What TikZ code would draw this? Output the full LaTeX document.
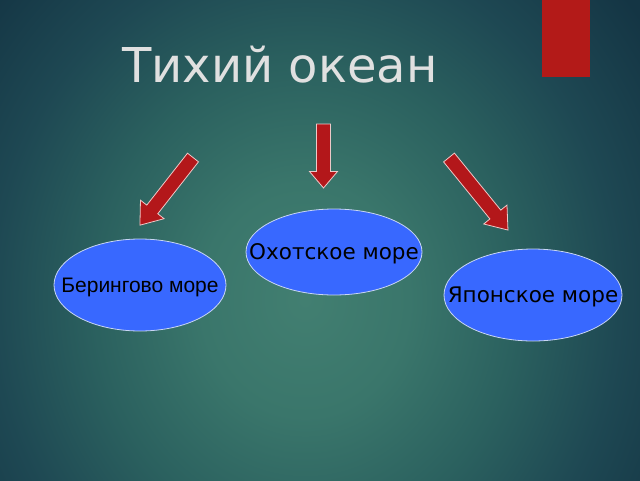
\documentclass[tikz,border=0pt]{standalone}
\usepackage{fontspec}
\setmainfont{DejaVu Sans}
\newfontfamily\arialfont{Liberation Sans}
\definecolor{bgin}{HTML}{427F71}
\definecolor{bgA}{HTML}{3A766B}
\definecolor{bgB}{HTML}{2B615F}
\definecolor{bgC}{HTML}{1E4853}
\definecolor{bgD}{HTML}{143544}
\definecolor{bgE}{HTML}{0F2A38}
\definecolor{arrred}{HTML}{B3171A}
\definecolor{arredge}{HTML}{EEC8C8}
\definecolor{seablue}{HTML}{3868FF}
\definecolor{seaedge}{HTML}{C8D6F4}
\definecolor{titlegray}{HTML}{E0E0E0}
\definecolor{rectred}{HTML}{B31A18}
\pgfdeclareradialshading{bgshade}{\pgfpoint{0bp}{0bp}}{color(0bp)=(bgin); color(5.1bp)=(bgA); color(10.3bp)=(bgB); color(15.4bp)=(bgC); color(20.6bp)=(bgD); color(34.3bp)=(bgE); color(50bp)=(bgE)}
\usetikzlibrary{shapes.geometric}
\tikzset{
  blockarrow/.style={fill=arrred, draw=arredge, line width=0.8pt, line join=miter},
  sea/.style={ellipse, fill=seablue, draw=seaedge, line width=0.8pt, inner sep=0pt, text=black},
  seatext/.style={font=\fontsize{21.5}{24}\selectfont, text height=15.7pt, text depth=-2pt},
  seatextb/.style={font=\arialfont\fontsize{21}{24}\selectfont, text height=15pt, text depth=-2pt},
  titletext/.style={font=\fontsize{48}{56}\selectfont, text=titlegray, inner sep=0pt}
}
\begin{document}
\begin{tikzpicture}[x=1pt,y=-1pt]
\useasboundingbox (0,0) rectangle (640,480);
\begin{scope}
  \clip (0,0) rectangle (640,480);
  \fill[bgD] (0,0) rectangle (640,480);
  \shade[shading=bgshade] (305,300) ellipse [x radius=510pt, y radius=570pt];
\end{scope}
% red bar
\fill[rectred] (542,0) rectangle (590,77);
% title
\node[titletext, anchor=base] (title) at (280,82) {Тихий океан};
% arrows
\begin{scope}[shift={(323.5,124)}, rotate=-90]
  \draw[blockarrow] (0,-7) -- (47.5,-7) -- (47.5,-14) -- (64,0) -- (47.5,14) -- (47.5,7) -- (0,7) -- cycle;
\end{scope}
\begin{scope}[shift={(193,157.5)}, rotate=-128.1]
  \draw[blockarrow] (0,-7) -- (66,-7) -- (66,-15) -- (86,0) -- (66,15) -- (66,7) -- (0,7) -- cycle;
\end{scope}
\begin{scope}[shift={(449,157.5)}, rotate=-50.9]
  \draw[blockarrow] (0,-7) -- (73.5,-7) -- (73.5,-15) -- (93.5,0) -- (73.5,15) -- (73.5,7) -- (0,7) -- cycle;
\end{scope}
% seas
\node[sea, seatext, minimum width=176pt, minimum height=86pt] (okh) at (334,252) {\makebox[0pt]{Охотское море}};
\node[sea, seatextb, minimum width=172pt, minimum height=92pt] (ber) at (140,285) {\makebox[0pt]{Берингово море}};
\node[sea, seatext, minimum width=178pt, minimum height=92pt] (jap) at (533,295) {\makebox[0pt]{Японское море}};
\end{tikzpicture}
\end{document}
